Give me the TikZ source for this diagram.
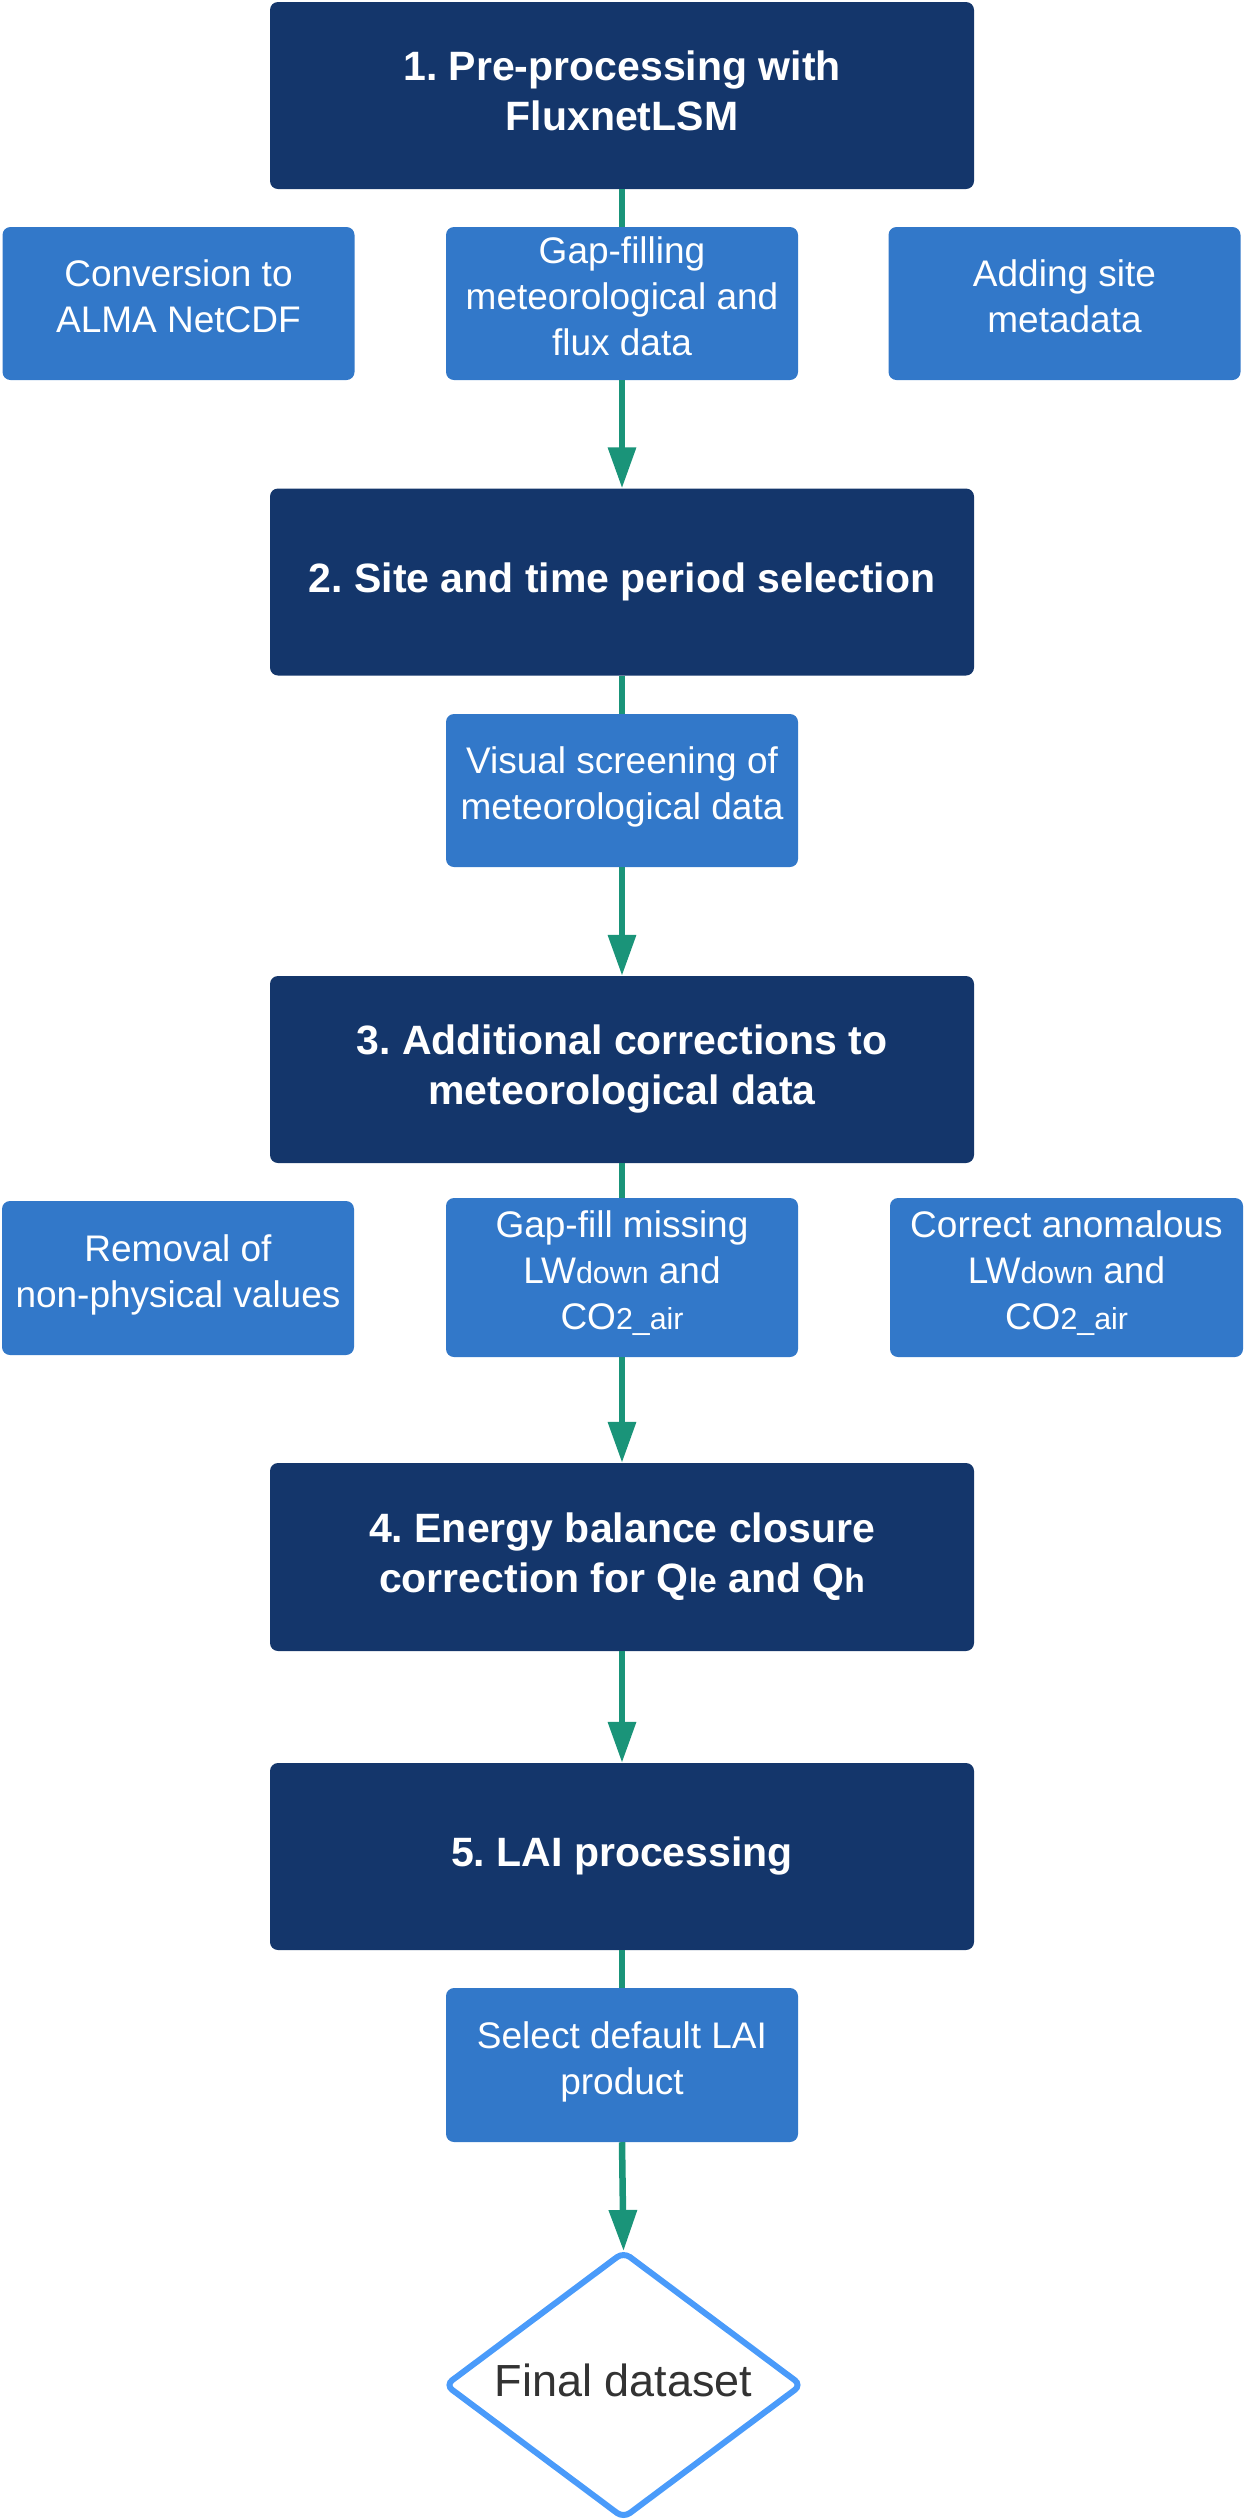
\documentclass[tikz,border=0pt]{standalone}
\usepackage{fontspec}
\setmainfont{Liberation Sans}
\usepackage{graphicx}
\usetikzlibrary{arrows.meta,shapes.geometric}
\definecolor{navy}{HTML}{14366B}
\definecolor{midblue}{HTML}{3278C9}
\definecolor{arrowgreen}{HTML}{1A9479}
\definecolor{diamondblue}{HTML}{4A9BFA}
\definecolor{darktext}{HTML}{333333}
\newcommand{\smallsub}[1]{\scalebox{0.82}{#1}}
\frenchspacing
\begin{document}
\begin{tikzpicture}[x=1pt,y=-1pt,
 titlebox/.style={rectangle, rounded corners=8pt, fill=navy, text=white, inner sep=0pt, minimum width=704pt, minimum height=187pt, align=center, text depth=9pt, font=\fontsize{41pt}{50pt}\selectfont\bfseries},
 subbox/.style={rectangle, rounded corners=8pt, fill=midblue, text=white, inner sep=0pt, minimum width=352pt, minimum height=153pt, align=center, text depth=14pt, font=\fontsize{37pt}{46pt}\selectfont},
 link/.style={draw=arrowgreen, line width=6.5pt},
 flow/.style={link, -{Triangle[length=41pt 0 0,width=27pt 0 0]}},
]
\useasboundingbox (0,0) rectangle (1244,2520);

\node[titlebox] (b1) at (622,95.5) {1. Pre-processing with\\FluxnetLSM};
\node[subbox] (r1a) at (178.5,303.5) {Conversion to\\ALMA NetCDF};
\node[subbox] (r1b) at (622,303.5) {Gap-filling\\meteorological and\\flux data};
\node[subbox] (r1c) at (1064.5,303.5) {Adding site\\metadata};

\node[titlebox] (b2) at (622,582) {2. Site and time period selection};
\node[subbox] (v) at (622,790.5) {Visual screening of\\meteorological data};

\node[titlebox] (b3) at (622,1069.5) {3. Additional corrections to\\meteorological data};
\node[subbox, minimum height=154pt] (r3a) at (178,1278) {Removal of\\non-physical values};
\node[subbox, minimum height=159pt] (r3b) at (622,1277.5) {Gap-fill missing\\LW\smallsub{down} and\\CO\smallsub{2\_air}};
\node[subbox, minimum height=159pt, minimum width=353pt] (r3c) at (1066.5,1277.5) {Correct anomalous\\LW\smallsub{down} and\\CO\smallsub{2\_air}};

\node[titlebox, minimum height=188pt] (b4) at (622,1557) {4. Energy balance closure\\correction for Q\smallsub{le} and Q\smallsub{h}};
\node[titlebox] (b5) at (622,1856.5) {5. LAI processing};
\node[subbox, minimum height=154pt] (sel) at (622,2065) {Select default LAI\\product};

\node[diamond, aspect=1.33, draw=diamondblue, line width=6pt, rounded corners=8pt, minimum width=358pt, minimum height=268pt, inner sep=0pt, text depth=9pt, text=darktext, font=\fontsize{45pt}{54pt}\selectfont] (fin) at (623.5,2385) {Final dataset};

\draw[link] (b1.south) -- (r1b.north);
\draw[flow] (r1b.south) -- (b2.north);
\draw[link] (b2.south) -- (v.north);
\draw[flow] (v.south) -- (b3.north);
\draw[link] (b3.south) -- (r3b.north);
\draw[flow] (r3b.south) -- (b4.north);
\draw[flow] (b4.south) -- (b5.north);
\draw[link] (b5.south) -- (sel.north);
\draw[flow] (sel.south) -- ([yshift=-3pt]fin.north);
\end{tikzpicture}
\end{document}
